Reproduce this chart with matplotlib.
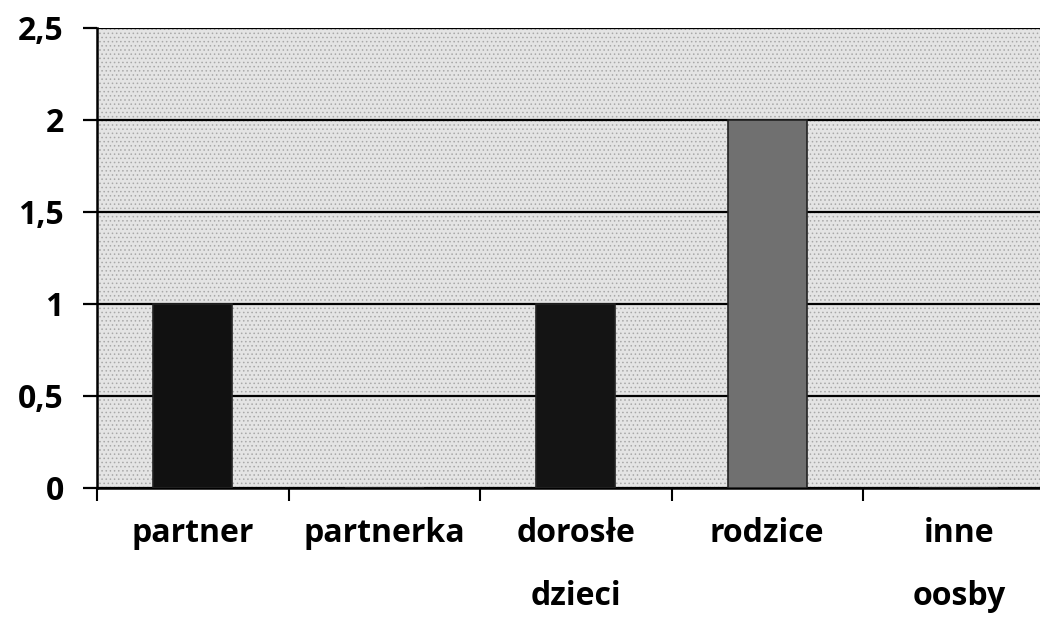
import matplotlib
matplotlib.use("Agg")
import matplotlib.pyplot as plt
from matplotlib.patches import Rectangle

categories = ["partner", "partnerka", "dorosłe\ndzieci", "rodzice", "inne\noosby"]
values = [1, 0, 1, 2, 0]
bar_colors = ["#111111", "#111111", "#141414", "#707070", "#111111"]
y_ticks = [0, 0.5, 1, 1.5, 2, 2.5]
y_labels = ["0", "0,5", "1", "1,5", "2", "2,5"]

plt.rcParams["font.family"] = ["Open Sans", "DejaVu Sans"]
plt.rcParams["hatch.linewidth"] = 0.6
plt.rcParams["hatch.color"] = "#9a9a9a"

fig = plt.figure(figsize=(10.4, 6.27), dpi=100)
# plot area runs past the right edge, as in the scan
ax = fig.add_axes([97 / 1040, 139 / 627, 957.5 / 1040, 460 / 627])
ax.set_facecolor("#e4e4e4")
ax.add_patch(Rectangle((0, 0), 1, 1, transform=ax.transAxes, facecolor="none",
                       hatch="....", edgecolor="#a8a8a8", lw=0, zorder=0))

x = range(len(categories))
ax.bar(x, values, width=0.41, color=bar_colors, edgecolor="#222222", linewidth=1.2, zorder=3)

ax.set_xlim(-0.5, len(categories) - 0.5)
ax.set_ylim(0, 2.5)
ax.set_yticks(y_ticks)
ax.set_yticklabels(y_labels)
ax.set_xticks(list(x))
ax.set_xticklabels(categories, linespacing=2.2)
ax.set_xticks([i - 0.5 for i in range(len(categories) + 1)], minor=True)

ax.yaxis.grid(True, color="black", linewidth=1.6, zorder=1)
ax.set_axisbelow(True)

ax.tick_params(axis="x", which="major", length=0, pad=21, labelsize=23)
ax.tick_params(axis="x", which="minor", length=9, width=1.5, color="black")
ax.tick_params(axis="y", length=10, width=1.6, pad=14, labelsize=23)
for lab in ax.get_xticklabels() + ax.get_yticklabels():
    lab.set_fontweight("bold")

for side in ["top", "right"]:
    ax.spines[side].set_visible(False)
ax.spines["left"].set_linewidth(1.8)
ax.spines["bottom"].set_linewidth(1.8)

fig.savefig("out.png", dpi=100)
